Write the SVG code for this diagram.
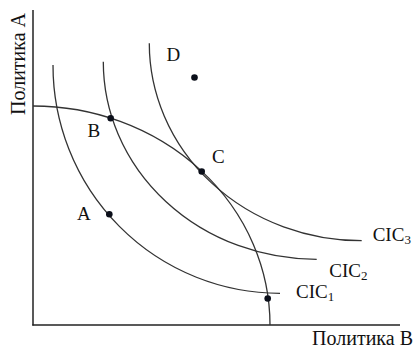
<svg xmlns="http://www.w3.org/2000/svg" width="416" height="349" viewBox="0 0 416 349">
<style>
  .axis{stroke:#222;stroke-width:1.5;fill:none}
  .curve{stroke:#333;stroke-width:1.3;fill:none}
  .dot{fill:#0b0f1a}
  .lbl{font-family:"Liberation Serif","Times New Roman",serif;font-size:19px;fill:#111}
  .sub{font-size:13px}
</style>
<rect width="416" height="349" fill="#fff"/>
<g id="axes">
  <line class="axis" x1="33" y1="10" x2="33" y2="325.5"/>
  <line class="axis" x1="32.3" y1="325" x2="400" y2="325"/>
  <text class="lbl" style="font-size:20px" x="413" y="344.5" text-anchor="end">Политика В</text>
  <text class="lbl" style="font-size:20px" transform="translate(24.5,115) rotate(-90)">Политика А</text>
</g>
<g id="curves">
  <path id="ppf" class="curve" d="M33,106 A237,219 0 0 1 270,325"/>
  <path id="cic1" class="curve" d="M53,65 A227,228 0 0 0 280,293.3"/>
  <path id="cic2" class="curve" d="M103.3,61.7 A213.4,197.6 0 0 0 316.7,259.3"/>
  <path id="cic3" class="curve" d="M149.3,43.3 A212.4,197.4 0 0 0 361.7,240.7"/>
</g>
<g id="curve-labels">
  <text class="lbl" x="296" y="298.3">CIC<tspan class="sub" dy="3">1</tspan></text>
  <text class="lbl" x="329.3" y="277.3">CIC<tspan class="sub" dy="3">2</tspan></text>
  <text class="lbl" x="372.7" y="240.7">CIC<tspan class="sub" dy="3">3</tspan></text>
</g>
<g id="point-A"><circle class="dot" cx="109.3" cy="214.3" r="3.3"/><text class="lbl" x="77" y="220">A</text></g>
<g id="point-B"><circle class="dot" cx="110.7" cy="118.3" r="3.3"/><text class="lbl" x="87.5" y="137">B</text></g>
<g id="point-C"><circle class="dot" cx="201.7" cy="171.5" r="3.3"/><text class="lbl" x="212" y="163">C</text></g>
<g id="point-D"><circle class="dot" cx="194.5" cy="77.5" r="3.3"/><text class="lbl" x="166.5" y="61">D</text></g>
<g id="point-E"><circle class="dot" cx="267.7" cy="298.5" r="3.3"/></g>
</svg>
